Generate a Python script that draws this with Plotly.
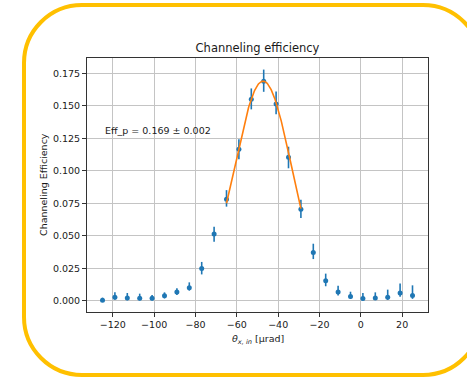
import numpy as np
import plotly.graph_objects as go

# ---- data ----
theta = [-125, -119, -113, -107, -101, -95, -89, -83, -77, -71, -65, -59, -53,
         -47, -41, -35, -29, -23, -17, -11, -5, 1, 7, 13, 19, 25]
eff = [0.0005, 0.0028, 0.0023, 0.0020, 0.0020, 0.0040, 0.0069, 0.0102, 0.0250,
       0.0515, 0.0782, 0.1166, 0.1550, 0.1690, 0.1515, 0.1104, 0.0706, 0.0373,
       0.0156, 0.0069, 0.0035, 0.0018, 0.0023, 0.0028, 0.0061, 0.0041]
err_up = [0.0020, 0.0038, 0.0038, 0.0036, 0.0026, 0.0026, 0.0028, 0.0041, 0.0050,
          0.0056, 0.0070, 0.0077, 0.0084, 0.0089, 0.0095, 0.0082, 0.0072, 0.0067,
          0.0054, 0.0048, 0.0036, 0.0043, 0.0043, 0.0059, 0.0074, 0.0079]
err_down = [0.0010, 0.0018, 0.0018, 0.0016, 0.0016, 0.0021, 0.0023, 0.0023, 0.0046,
            0.0059, 0.0057, 0.0077, 0.0077, 0.0082, 0.0079, 0.0084, 0.0069, 0.0051,
            0.0043, 0.0028, 0.0020, 0.0015, 0.0016, 0.0020, 0.0028, 0.0025]

# Gaussian fit parameters
fit_amp = 0.169
fit_mu = -47.3
fit_sigma = 13.9
fit_xmin, fit_xmax = -65, -29

x_ticks = [-120, -100, -80, -60, -40, -20, 0, 20]
y_ticks = [0.000, 0.025, 0.050, 0.075, 0.100, 0.125, 0.150, 0.175]

title_text = "Channeling efficiency"
xlabel = "<i>θ</i><sub><i>x, in</i></sub> [μrad]"
ylabel = "Channeling Efficiency"
fit_label = "Eff_p = 0.169 ± 0.002"

# ---- layout geometry (pixels) ----
W, H = 467, 379
L, R, T, B = 87, 39, 58, 67
pw, ph = W - L - R, H - T - B

def px2paper(px, py):
    return (px - L) / pw, (H - B - py) / ph

FONT = "DejaVu Sans"
TXT = "#1a1a1a"

fit_x = np.linspace(fit_xmin, fit_xmax, 200)
fit_y = fit_amp * np.exp(-(fit_x - fit_mu) ** 2 / (2 * fit_sigma ** 2))

fig = go.Figure()
fig.add_trace(go.Scatter(
    x=theta, y=eff, mode="markers",
    marker=dict(color="#1f77b4", size=5),
    error_y=dict(type="data", symmetric=False, array=err_up, arrayminus=err_down,
                 color="#1f77b4", thickness=1.6, width=0),
    showlegend=False, cliponaxis=False))
fig.add_trace(go.Scatter(
    x=fit_x, y=fit_y, mode="lines",
    line=dict(color="#ff7f0e", width=1.6), showlegend=False))

# rounded yellow card border
x0, y0, x1, y1, r = 24, 5, 481, 375, 58
k = 0.5523 * r
pts = []
def P(px, py):
    a, b = px2paper(px, py)
    return f"{a:.5f},{b:.5f}"
path = (f"M {P(x0 + r, y0)} L {P(x1 - r, y0)} "
        f"C {P(x1 - r + k, y0)} {P(x1, y0 + r - k)} {P(x1, y0 + r)} "
        f"L {P(x1, y1 - r)} "
        f"C {P(x1, y1 - r + k)} {P(x1 - r + k, y1)} {P(x1 - r, y1)} "
        f"L {P(x0 + r, y1)} "
        f"C {P(x0 + r - k, y1)} {P(x0, y1 - r + k)} {P(x0, y1 - r)} "
        f"L {P(x0, y0 + r)} "
        f"C {P(x0, y0 + r - k)} {P(x0 + r - k, y0)} {P(x0 + r, y0)} Z")
fig.add_shape(type="path", path=path, xref="paper", yref="paper",
              line=dict(color="#FFC000", width=4), layer="below")

axis_common = dict(
    showline=True, mirror=True, linecolor="#333333", linewidth=1,
    ticks="outside", ticklen=4, tickwidth=1, tickcolor="#333333",
    showgrid=True, gridcolor="#c4c4c4", gridwidth=1, zeroline=False,
    tickfont=dict(family=FONT, size=9.5, color=TXT),
)
fig.update_xaxes(range=[-132.5, 32.5], tickvals=x_ticks, **axis_common)
fig.update_yaxes(range=[-0.0085, 0.1868], tickvals=y_ticks, tickformat=".3f",
                 **axis_common)

fig.update_layout(
    width=W, height=H,
    margin=dict(l=L, r=R, t=T, b=B, autoexpand=False),
    paper_bgcolor="white", plot_bgcolor="white",
    font=dict(family=FONT, color=TXT),
    title=dict(text=title_text, x=(L + pw / 2) / W, xanchor="center",
               y=1 - 48 / H, yanchor="middle", yref="container",
               font=dict(family=FONT, size=11.5, color=TXT)),
    annotations=[
        dict(text=fit_label, x=-125, y=0.1314, xref="x", yref="y",
             xanchor="left", yanchor="middle", showarrow=False,
             font=dict(family=FONT, size=9.5, color=TXT)),
        dict(text=xlabel, x=0.5, y=px2paper(0, 339)[1], xref="paper", yref="paper",
             xanchor="center", yanchor="middle", showarrow=False,
             font=dict(family=FONT, size=9.5, color=TXT)),
        dict(text=ylabel, x=px2paper(43, 0)[0], y=0.5, xref="paper", yref="paper",
             xanchor="center", yanchor="middle", showarrow=False, textangle=-90,
             font=dict(family=FONT, size=9.5, color=TXT)),
    ],
)

fig.write_html("out.html")
